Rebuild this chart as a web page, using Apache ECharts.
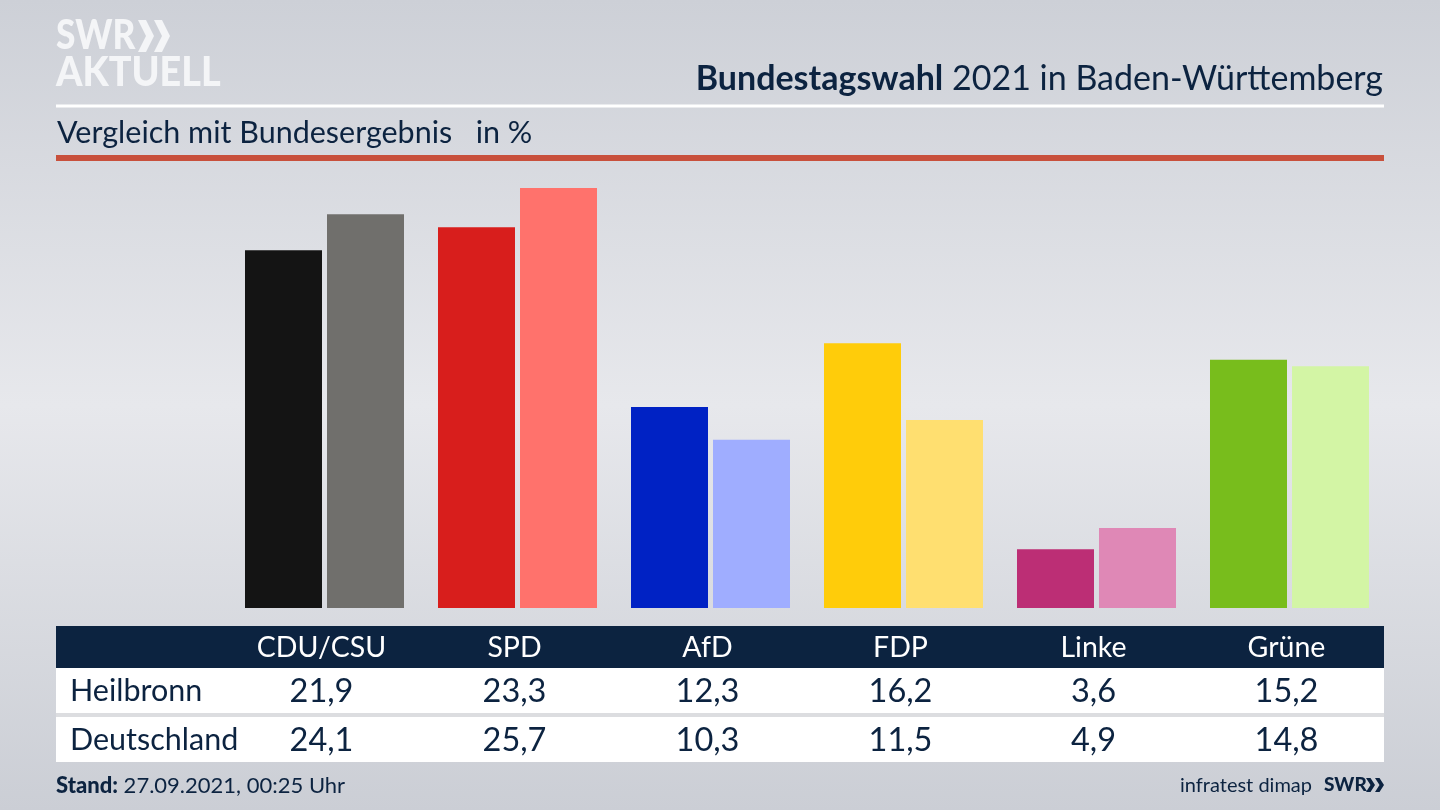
<!DOCTYPE html>
<html>
<head>
<meta charset="utf-8">
<title>Bundestagswahl 2021</title>
<script src="https://cdn.jsdelivr.net/npm/echarts@6/dist/echarts.min.js"></script>
<style>
  html, body { margin: 0; padding: 0; background: #dfe1e6; }
  #chart { width: 1440px; height: 810px; }
</style>
</head>
<body>
<div id="chart"></div>
<script>
const parties = ['CDU/CSU', 'SPD', 'AfD', 'FDP', 'Linke', 'Grüne'];
const heilbronn = [21.9, 23.3, 12.3, 16.2, 3.6, 15.2];
const deutschland = [24.1, 25.7, 10.3, 11.5, 4.9, 14.8];
const colorsHeilbronn = ['#141414', '#d81e1c', '#0022c4', '#ffcc0a', '#bc2e75', '#78bd1c'];
const colorsDeutschland = ['#706f6c', '#ff726c', '#9fadff', '#ffdf70', '#df88b6', '#d3f5a5'];
const rowNames = ['Heilbronn', 'Deutschland'];

const navy = '#0c2340';
const logoWhite = '#f4f5f7';
const fontName = 'Lato';
const fmt = v => v.toFixed(1).replace('.', ',');

const chart = echarts.init(document.getElementById('chart'));

function rect(x, y, w, h, fill) {
  return { type: 'rect', z: -10, silent: true, shape: { x, y, width: w, height: h }, style: { fill } };
}
function label(text, x, y, size, fill, extra, scaleX) {
  return {
    type: 'text', silent: true, z: 10, x, y, scaleX: scaleX || 1,
    style: Object.assign({ text, fill, font: size + 'px ' + fontName, verticalAlign: 'middle' }, extra)
  };
}
function chevron(x, y, w, h, fill) {
  // Logo arrow
  const t = w * 0.5;
  return {
    type: 'polygon', silent: true, z: 10,
    shape: { points: [[x, y], [x + t, y], [x + w, y + h / 2], [x + t, y + h], [x, y + h], [x + w - t, y + h / 2]] },
    style: { fill }
  };
}

chart.setOption({
  animation: false,
  backgroundColor: new echarts.graphic.LinearGradient(0, 0, 0, 1, [
    { offset: 0, color: '#cdd0d7' },
    { offset: 0.5, color: '#e7e8ec' },
    { offset: 1, color: '#cbced5' }
  ]),
  title: [
    {
      text: '{b|Bundestagswahl} 2021 in Baden-Württemberg',
      right: 52, top: 57,
      textStyle: {
        color: navy, fontFamily: fontName, fontSize: 34, fontWeight: 'normal',
        rich: { b: { color: navy, fontFamily: fontName, fontSize: 34, fontWeight: 'bold' } }
      }
    },
    {
      text: 'Vergleich mit Bundesergebnis   in %',
      left: 52, top: 113,
      textStyle: { color: navy, fontFamily: fontName, fontSize: 30.5, fontWeight: 'normal' }
    }
  ],
  grid: { left: 228, width: 1158, top: 183.16, height: 424.84, containLabel: false },
  xAxis: {
    type: 'category',
    data: parties,
    axisLine: { show: false },
    axisTick: { show: false },
    axisLabel: {
      margin: 19,
      interval: 0,
      padding: [0, 6, 0, 0],
      formatter: (name, i) =>
        '{h|' + name + '}\n{a|' + fmt(heilbronn[i]) + '}\n{b|' + fmt(deutschland[i]) + '}',
      rich: {
        h: { color: '#ffffff', fontFamily: fontName, fontSize: 28.5, lineHeight: 42, align: 'center' },
        a: { color: navy, fontFamily: fontName, fontSize: 32.5, lineHeight: 45, align: 'center' },
        b: { color: navy, fontFamily: fontName, fontSize: 32.5, lineHeight: 53, align: 'center' }
      }
    }
  },
  yAxis: { type: 'value', min: 0, max: 26, show: false },
  series: [
    {
      name: rowNames[0], type: 'bar', barWidth: 77, barGap: '6.5%',
      data: heilbronn.map((v, i) => ({ value: v, itemStyle: { color: colorsHeilbronn[i] } }))
    },
    {
      name: rowNames[1], type: 'bar', barWidth: 77,
      data: deutschland.map((v, i) => ({ value: v, itemStyle: { color: colorsDeutschland[i] } }))
    }
  ],
  graphic: [
    rect(56, 104.5, 1328, 3, '#ffffff'),
    rect(56, 155, 1328, 6, '#c8503c'),
    rect(56, 626, 1328, 42, navy),
    rect(56, 668, 1328, 45, '#ffffff'),
    rect(56, 713, 1328, 4, '#dcdde0'),
    rect(56, 717, 1328, 45, '#ffffff'),
    label(rowNames[0], 70, 691.5, 30.5, navy),
    label(rowNames[1], 70, 740.5, 30.5, navy),
    label('{s|Stand:} 27.09.2021, 00:25 Uhr', 56, 786, 22, navy, {
      rich: { s: { font: '900 22px ' + fontName, fill: navy } }
    }),
    label('infratest dimap', 1312, 786, 20, navy, { align: 'right' }),
    label('SWR', 1324, 785, 19, navy, { font: '900 19px ' + fontName }),
    chevron(1366, 778, 9, 14, navy),
    chevron(1375, 778, 9, 14, navy),
    label('SWR', 56, 36, 41, logoWhite, { font: '900 41px ' + fontName }, 0.86),
    chevron(138, 20, 16, 32, logoWhite),
    chevron(154, 20, 16, 32, logoWhite),
    label('AKTUELL', 56, 73, 41, logoWhite, { font: '900 41px ' + fontName }, 0.92)
  ]
});
</script>
</body>
</html>
